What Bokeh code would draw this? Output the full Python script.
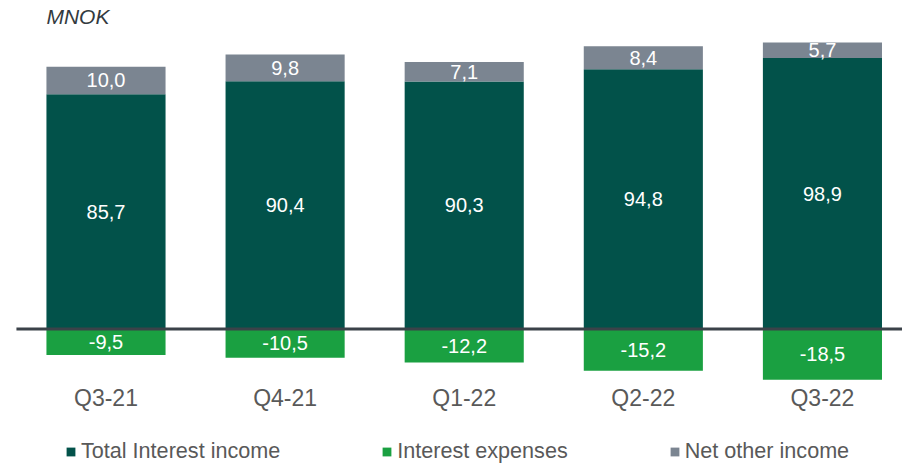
from bokeh.plotting import figure
from bokeh.models import Range1d, Legend, LegendItem, Label, ColumnDataSource
from bokeh.embed import file_html
from bokeh.resources import INLINE

categories = ["Q3-21", "Q4-21", "Q1-22", "Q2-22", "Q3-22"]
total_interest_income = [85.7, 90.4, 90.3, 94.8, 98.9]
interest_expenses = [-9.5, -10.5, -12.2, -15.2, -18.5]
net_other_income = [10.0, 9.8, 7.1, 8.4, 5.7]

DARK = "#02524a"
GREEN = "#1aa041"
GREY = "#7b8591"
TEXT = "#595959"
FONT = "Liberation Sans"

def fmt(v):
    return f"{v:.1f}".replace(".", ",")

xs = list(range(len(categories)))
CAT_LABEL_Y = -25.3
src = ColumnDataSource(dict(
    x=xs,
    cat=categories,
    cat_y=[CAT_LABEL_Y] * len(xs),
    inc=total_interest_income,
    exp=interest_expenses,
    oth_bot=total_interest_income,
    oth_top=[a + b for a, b in zip(total_interest_income, net_other_income)],
    inc_mid=[a / 2 for a in total_interest_income],
    exp_mid=[a / 2 for a in interest_expenses],
    oth_mid=[a + b / 2 for a, b in zip(total_interest_income, net_other_income)],
    inc_lbl=[fmt(v) for v in total_interest_income],
    exp_lbl=[fmt(v) for v in interest_expenses],
    oth_lbl=[fmt(v) for v in net_other_income],
    zero=[0] * len(xs),
))

BW = 0.665
X_END = 4.447
p = figure(width=902, height=463, output_backend="svg", toolbar_location=None,
           x_range=Range1d(-0.589, X_END), y_range=Range1d(-49.09, 119.89),
           min_border_left=0, min_border_right=0, min_border_top=0, min_border_bottom=0)
p.outline_line_color = None
p.xgrid.visible = False
p.ygrid.visible = False
p.xaxis.visible = False
p.yaxis.visible = False

r_inc = p.vbar(x="x", bottom="zero", top="inc", width=BW, source=src, fill_color=DARK, line_color=None)
r_exp = p.vbar(x="x", bottom="exp", top="zero", width=BW, source=src, fill_color=GREEN, line_color=None)
r_oth = p.vbar(x="x", bottom="oth_bot", top="oth_top", width=BW, source=src, fill_color=GREY, line_color=None)

p.segment(x0=-0.5, y0=0, x1=X_END, y1=0, line_color="#3b4249", line_width=3)

for ycol, lcol in (("inc_mid", "inc_lbl"), ("exp_mid", "exp_lbl"), ("oth_mid", "oth_lbl")):
    p.text(x="x", y=ycol, text=lcol, source=src, text_align="center", text_baseline="middle",
           text_color="white", text_font_size="20px", text_font={"value": FONT})

p.text(x="x", y="cat_y", text="cat", source=src, text_align="center", text_baseline="middle",
       text_color=TEXT, text_font_size="23px", text_font={"value": FONT})

p.add_layout(Label(x=-BW / 2, y=114, text="MNOK", text_font_style="italic", text_font_size="21px",
                   text_font=FONT, text_color="#333a40", text_baseline="middle"))

legend = Legend(items=[
    LegendItem(label="Total Interest income", renderers=[r_inc]),
    LegendItem(label="Interest expenses", renderers=[r_exp]),
    LegendItem(label="Net other income", renderers=[r_oth]),
], orientation="horizontal", location=(65, -1), glyph_width=11, glyph_height=11,
    label_standoff=5, spacing=101, padding=0, margin=0, border_line_color=None,
    background_fill_alpha=0, label_text_font_size="21.6px", label_text_color=TEXT,
    label_text_font=FONT)
p.add_layout(legend, "center")

open("out.html", "w").write(file_html(p, INLINE))
